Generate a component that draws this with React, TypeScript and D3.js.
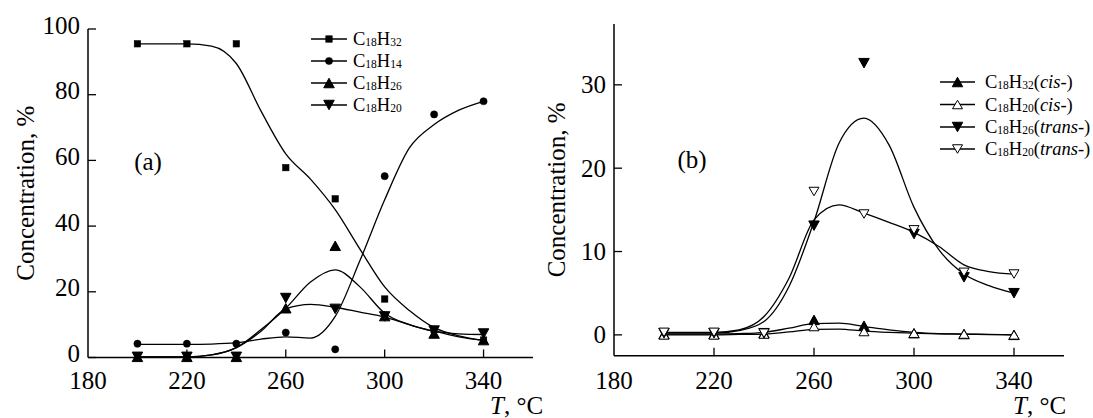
import React from 'react';
import * as d3 from 'd3';

// ---------- data ----------
const temps = [200, 220, 240, 260, 280, 300, 320, 340];
const fitTemps = [200, 210, 220, 230, 240, 250, 260, 270, 280, 290, 300, 310, 320, 330, 340];
const xTicks = [180, 220, 260, 300, 340];
const yTicksA = [0, 20, 40, 60, 80, 100];
const yTicksB = [0, 10, 20, 30];

// panel (a) measured points
const aC18H32 = [95.5, 95.5, 95.5, 57.8, 48.3, 17.8, 8.5, 5.3];
const aC18H14 = [4.2, 4.2, 4.2, 7.6, 2.5, 55.2, 74.0, 78.0];
const aC18H26 = [0.2, 0.2, 0.2, 15.0, 34.0, 12.6, 7.3, 5.3];
const aC18H20 = [0.2, 0.2, 0.2, 18.1, 14.8, 12.5, 8.2, 7.3];
// panel (a) fitted curves
const aFitC18H32 = [95.5, 95.5, 95.5, 94.8, 89.5, 75.0, 62.0, 54.3, 45.0, 33.0, 21.5, 14.3, 9.1, 6.6, 5.2];
const aFitC18H14 = [4.0, 4.0, 4.0, 4.1, 4.5, 5.6, 6.3, 5.9, 12.5, 29.5, 48.0, 63.8, 70.9, 75.3, 78.0];
const aFitC18H26 = [0.2, 0.2, 0.2, 0.8, 3.0, 8.5, 15.0, 23.0, 26.7, 21.5, 13.5, 10.0, 8.0, 6.3, 5.2];
const aFitC18H20 = [0.2, 0.2, 0.2, 0.8, 3.0, 8.0, 14.8, 16.2, 15.3, 13.8, 12.3, 10.0, 8.0, 7.2, 7.0];

// panel (b) measured points
const bC18H32cis = [0.1, 0.1, 0.2, 1.8, 1.1, 0.2, 0.1, 0.0];
const bC18H20cis = [0.0, 0.0, 0.1, 1.0, 0.4, 0.2, 0.1, 0.0];
const bC18H26trans = [0.2, 0.2, 0.2, 13.1, 32.6, 12.1, 6.9, 5.0];
const bC18H20trans = [0.3, 0.3, 0.2, 17.2, 14.5, 12.6, 7.5, 7.3];
// panel (b) fitted curves
const bFitC18H32cis = [0.1, 0.1, 0.1, 0.15, 0.3, 0.8, 1.35, 1.4, 1.0, 0.6, 0.3, 0.15, 0.1, 0.05, 0.0];
const bFitC18H20cis = [0.0, 0.0, 0.0, 0.05, 0.1, 0.35, 0.65, 0.7, 0.45, 0.3, 0.2, 0.12, 0.08, 0.04, 0.0];
const bFitC18H26trans = [0.2, 0.2, 0.2, 0.5, 1.6, 5.8, 13.6, 23.0, 26.0, 22.8, 15.3, 10.2, 7.3, 5.9, 5.0];
const bFitC18H20trans = [0.3, 0.3, 0.3, 0.6, 2.2, 6.8, 13.8, 15.6, 14.6, 13.5, 12.3, 10.6, 8.4, 7.6, 7.3];

const FONT = 'Liberation Serif, DejaVu Serif, Times New Roman, Times, serif';

type Shape = 'square' | 'circle' | 'up' | 'down';
interface Series {
  main: string[];
  suffix?: string;
  values: number[];
  fit: number[];
  shape: Shape;
  filled: boolean;
}

const seriesA: Series[] = [
  { main: ['C', '18', 'H', '32'], values: aC18H32, fit: aFitC18H32, shape: 'square', filled: true },
  { main: ['C', '18', 'H', '14'], values: aC18H14, fit: aFitC18H14, shape: 'circle', filled: true },
  { main: ['C', '18', 'H', '26'], values: aC18H26, fit: aFitC18H26, shape: 'up', filled: true },
  { main: ['C', '18', 'H', '20'], values: aC18H20, fit: aFitC18H20, shape: 'down', filled: true },
];
const seriesB: Series[] = [
  { main: ['C', '18', 'H', '32'], suffix: 'cis', values: bC18H32cis, fit: bFitC18H32cis, shape: 'up', filled: true },
  { main: ['C', '18', 'H', '20'], suffix: 'cis', values: bC18H20cis, fit: bFitC18H20cis, shape: 'up', filled: false },
  { main: ['C', '18', 'H', '26'], suffix: 'trans', values: bC18H26trans, fit: bFitC18H26trans, shape: 'down', filled: true },
  { main: ['C', '18', 'H', '20'], suffix: 'trans', values: bC18H20trans, fit: bFitC18H20trans, shape: 'down', filled: false },
];

const txt = (size: number): React.CSSProperties => ({ fontFamily: FONT, fontSize: size + 'px' });

function Marker({ cx, cy, shape, filled }: { cx: number; cy: number; shape: Shape; filled: boolean }) {
  const fill = filled ? '#000' : '#fff';
  const stroke = '#000';
  if (shape === 'square') {
    const s = 6.5;
    return <rect x={cx - s / 2} y={cy - s / 2} width={s} height={s} fill={fill} stroke={stroke} strokeWidth={0.5} />;
  }
  if (shape === 'circle') {
    return <circle cx={cx} cy={cy} r={3.6} fill={fill} stroke={stroke} strokeWidth={0.5} />;
  }
  const w = filled ? 10.5 : 10;
  const h = filled ? 9.5 : 8.5;
  const pts =
    shape === 'up'
      ? [[cx, cy - h / 2], [cx - w / 2, cy + h / 2], [cx + w / 2, cy + h / 2]]
      : [[cx, cy + h / 2], [cx - w / 2, cy - h / 2], [cx + w / 2, cy - h / 2]];
  return <polygon points={pts.map((p) => p.join(',')).join(' ')} fill={fill} stroke={stroke} strokeWidth={1} />;
}

function LegendLabel({ s, x, y }: { s: Series; x: number; y: number }) {
  return (
    <text x={x} y={y} style={txt(18.5)} fill="#000">
      <tspan>{s.main[0]}</tspan>
      <tspan style={{ fontSize: '11.5px' }} dy={1}>{s.main[1]}</tspan>
      <tspan dy={-1}>{s.main[2]}</tspan>
      <tspan style={{ fontSize: '11.5px' }} dy={1}>{s.main[3]}</tspan>
      {s.suffix ? (
        <>
          <tspan dy={-1}>(</tspan>
          <tspan style={{ fontStyle: 'italic' }}>{s.suffix}</tspan>
          <tspan>-)</tspan>
        </>
      ) : null}
    </text>
  );
}

interface PanelProps {
  series: Series[];
  x: d3.ScaleLinear<number, number>;
  y: d3.ScaleLinear<number, number>;
  yTicks: number[];
  yLabelShift: number;
  letter: string;
  letterPos: [number, number];
  legendX: [number, number, number];
  legendY: number[];
  yTitleX: number;
  tX: number;
}

function Panel({ series, x, y, yTicks, yLabelShift, letter, letterPos, legendX, legendY, yTitleX, tX }: PanelProps) {
  const [x0, x1] = x.range();
  const [yb, yt] = y.range();
  const line = (fit: number[]) =>
    d3
      .line<number>()
      .x((_, i) => x(fitTemps[i]))
      .y((d) => y(d))
      .curve(d3.curveMonotoneX)(fit) || '';
  const tickLen = 8;
  return (
    <g>
      <line x1={x0} x2={x0} y1={yb} y2={yt} stroke="#000" strokeWidth={1.5} />
      <line x1={x0} x2={x1} y1={yb} y2={yb} stroke="#000" strokeWidth={1.5} />
      {yTicks.map((t) => (
        <g key={'yt' + t}>
          <line x1={x0} x2={x0 + tickLen} y1={y(t)} y2={y(t)} stroke="#000" strokeWidth={1.3} />
          <text x={x0 - 8} y={y(t) + yLabelShift} dy="0.34em" textAnchor="end" style={txt(25)} fill="#000">
            {t}
          </text>
        </g>
      ))}
      {xTicks.map((t) => (
        <g key={'xt' + t}>
          {t !== x.domain()[0] && <line x1={x(t)} x2={x(t)} y1={yb} y2={yb - tickLen} stroke="#000" strokeWidth={1.3} />}
          <text x={x(t)} y={388.5} textAnchor="middle" style={txt(25)} fill="#000">
            {t}
          </text>
        </g>
      ))}
      <text
        transform={`translate(${yTitleX},${(yb + yt) / 2}) rotate(-90)`}
        textAnchor="middle"
        dy="0.34em"
        style={txt(25)}
        fill="#000"
      >
        Concentration, %
      </text>
      <text x={tX} y={414} style={txt(25)} fill="#000">
        <tspan style={{ fontStyle: 'italic' }}>T</tspan>
        <tspan>, °C</tspan>
      </text>
      <text x={letterPos[0]} y={letterPos[1]} textAnchor="middle" style={txt(25)} fill="#000">
        {letter}
      </text>
      {series.map((s, i) => (
        <path key={'c' + i} d={line(s.fit)} fill="none" stroke="#000" strokeWidth={1.3} />
      ))}
      {series.map((s, i) =>
        s.values.map((v, j) => <Marker key={`m${i}-${j}`} cx={x(temps[j])} cy={y(v)} shape={s.shape} filled={s.filled} />)
      )}
      {series.map((s, i) => (
        <g key={'l' + i}>
          <line x1={legendX[0]} x2={legendX[1]} y1={legendY[i]} y2={legendY[i]} stroke="#000" strokeWidth={1.3} />
          <Marker cx={(legendX[0] + legendX[1]) / 2} cy={legendY[i]} shape={s.shape} filled={s.filled} />
          <LegendLabel s={s} x={legendX[2]} y={legendY[i] + 6} />
        </g>
      ))}
    </g>
  );
}

export default function App() {
  const xA = d3.scaleLinear().domain([180, 360]).range([88, 533]);
  const yA = d3.scaleLinear().domain([0, 100]).range([357.5, 29]);
  const xB = d3.scaleLinear().domain([180, 360]).range([614, 1064]);
  const yB = d3.scaleLinear().domain([-2.5, 37.3]).range([355.7, 24]);
  return (
    <svg width={1093} height={418} style={{ position: 'absolute', left: 0, top: 0, background: '#fff' }}>
      <rect width={1093} height={418} fill="#fff" />
      <Panel
        series={seriesA}
        x={xA}
        y={yA}
        yTicks={yTicksA}
        yLabelShift={-4}
        letter="(a)"
        letterPos={[148, 170]}
        legendX={[311, 347, 353]}
        legendY={[39, 61, 83, 105]}
        yTitleX={25}
        tX={490}
      />
      <Panel
        series={seriesB}
        x={xB}
        y={yB}
        yTicks={yTicksB}
        yLabelShift={0}
        letter="(b)"
        letterPos={[692, 168]}
        legendX={[940, 975, 985]}
        legendY={[82, 104.5, 127, 149]}
        yTitleX={556}
        tX={1013}
      />
    </svg>
  );
}
